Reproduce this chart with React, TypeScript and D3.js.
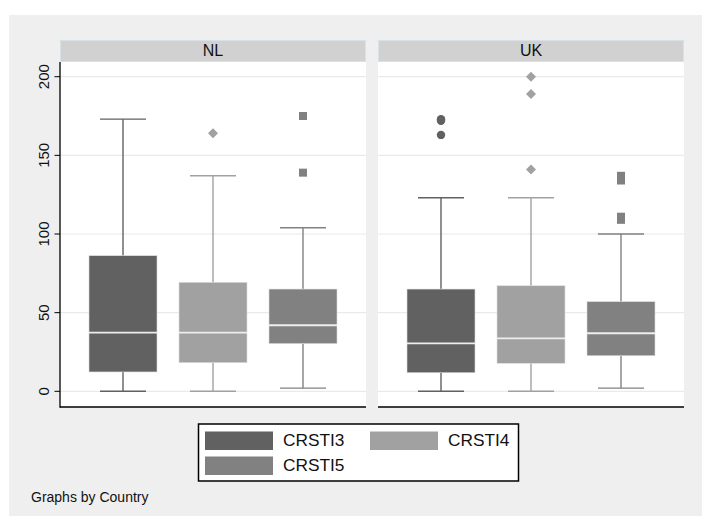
import React from "react";
import * as d3 from "d3";

// Box-plot summaries per country (rows) and index (columns)
const countries = ["NL", "UK"];
const series = ["CRSTI3", "CRSTI4", "CRSTI5"];
const seriesColors = ["#616161", "#a1a1a1", "#818181"];
const lowerWhisker = [
  [0, 0, 2],
  [0, 0, 2],
];
const q1 = [
  [12.3, 18.2, 30.3],
  [11.8, 17.8, 22.6],
];
const median = [
  [37.3, 37.3, 42],
  [30.5, 33.7, 36.9],
];
const q3 = [
  [86.2, 69.3, 65],
  [65, 67.1, 57],
];
const upperWhisker = [
  [173, 137, 104],
  [123, 123, 100],
];
const outliers: number[][][] = [
  [[], [164], [175, 139]],
  [[173, 172, 163], [200, 189, 141], [137, 134, 111, 109]],
];
const yTicks = [0, 50, 100, 150, 200];
const note = "Graphs by Country";

const W = 702;
const H = 517;
const panelTop = 62;
const panelBottom = 407;
const headerTop = 40;
const panelX = [60, 378];
const panelW = 306;
const boxW = 68;
const capW = 46;

const y = d3.scaleLinear().domain([0, 200]).range([391.3, 76.7]);
const xInPanel = d3.scalePoint<string>().domain(series).range([63, 243]);

const symbolTypes = [d3.symbolCircle, d3.symbolSquare, d3.symbolSquare];
const symbolSizes = [56, 50, 64];
const symbolRotate = [0, 45, 0];

export default function App() {
  const font = "'Liberation Sans', Arial, sans-serif";
  return (
    <svg
      width={W}
      height={H}
      style={{ position: "absolute", left: 0, top: 0, display: "block" }}
      fontFamily={font}
    >
      <rect x={0} y={0} width={W} height={H} fill="#ffffff" />
      <rect x={9} y={15} width={W - 9} height={H - 16} fill="#efefef" />

      {countries.map((c, ci) => {
        const px = panelX[ci];
        return (
          <g key={c}>
            {/* strip header */}
            <rect
              x={px + 0.5}
              y={headerTop + 0.5}
              width={panelW - 1}
              height={panelTop - headerTop - 1}
              fill="#d1d1d1"
              stroke="#d8e2e6"
              strokeWidth={1}
            />
            <text x={px + panelW / 2} y={56} textAnchor="middle" fontSize={16} fill="#111">
              {c}
            </text>
            {/* plot region */}
            <rect x={px} y={panelTop} width={panelW} height={panelBottom - panelTop} fill="#ffffff" />
            {yTicks.map((t) => (
              <line
                key={t}
                x1={px}
                x2={px + panelW}
                y1={y(t)}
                y2={y(t)}
                stroke="#eaeaea"
                strokeWidth={1.2}
              />
            ))}
            {series.map((s, si) => {
              const cx = px + (xInPanel(s) as number);
              const col = seriesColors[si];
              return (
                <g key={s}>
                  <line x1={cx} x2={cx} y1={y(upperWhisker[ci][si])} y2={y(q3[ci][si])} stroke={col} strokeWidth={1.4} />
                  <line x1={cx} x2={cx} y1={y(q1[ci][si])} y2={y(lowerWhisker[ci][si])} stroke={col} strokeWidth={1.4} />
                  <line
                    x1={cx - capW / 2}
                    x2={cx + capW / 2}
                    y1={y(upperWhisker[ci][si])}
                    y2={y(upperWhisker[ci][si])}
                    stroke={col}
                    strokeWidth={1.4}
                  />
                  <line
                    x1={cx - capW / 2}
                    x2={cx + capW / 2}
                    y1={y(lowerWhisker[ci][si])}
                    y2={y(lowerWhisker[ci][si])}
                    stroke={col}
                    strokeWidth={1.4}
                  />
                  <rect
                    x={cx - boxW / 2}
                    y={y(q3[ci][si])}
                    width={boxW}
                    height={y(q1[ci][si]) - y(q3[ci][si])}
                    fill={col}
                    stroke="#dcdcdc"
                    strokeWidth={0.6}
                  />
                  <line
                    x1={cx - boxW / 2}
                    x2={cx + boxW / 2}
                    y1={y(median[ci][si])}
                    y2={y(median[ci][si])}
                    stroke="#eeeeee"
                    strokeWidth={1.8}
                  />
                  {outliers[ci][si].map((v, k) => (
                    <path
                      key={k}
                      d={d3.symbol().type(symbolTypes[si]).size(symbolSizes[si])() as string}
                      transform={`translate(${cx},${y(v)}) rotate(${symbolRotate[si]})`}
                      fill={col}
                    />
                  ))}
                </g>
              );
            })}
            <line x1={px} x2={px + panelW} y1={panelBottom} y2={panelBottom} stroke="#000" strokeWidth={1.5} />
          </g>
        );
      })}

      {/* y axis */}
      <line x1={60} x2={60} y1={panelTop} y2={panelBottom + 0.75} stroke="#000" strokeWidth={1.3} />
      {yTicks.map((t) => (
        <g key={t}>
          <line x1={54.5} x2={60} y1={y(t)} y2={y(t)} stroke="#000" strokeWidth={1} />
          <text
            transform={`translate(48.5,${y(t)}) rotate(-90)`}
            textAnchor="middle"
            fontSize={15}
            fill="#111"
          >
            {t}
          </text>
        </g>
      ))}

      {/* legend */}
      <rect x={198.5} y={424} width={320} height={57} fill="#ffffff" stroke="#000" strokeWidth={1.5} />
      {series.map((s, si) => {
        const col = si % 2;
        const row = Math.floor(si / 2);
        const sx = [205, 370][col];
        const sy = 431.5 + row * 25;
        const tx = [283, 448][col];
        return (
          <g key={s}>
            <rect x={sx} y={sy} width={68} height={18.5} fill={seriesColors[si]} />
            <text x={tx} y={sy + 14.8} fontSize={17.3} fill="#111">
              {s}
            </text>
          </g>
        );
      })}

      <text x={31} y={502.3} fontSize={14} fill="#111">
        {note}
      </text>
    </svg>
  );
}
